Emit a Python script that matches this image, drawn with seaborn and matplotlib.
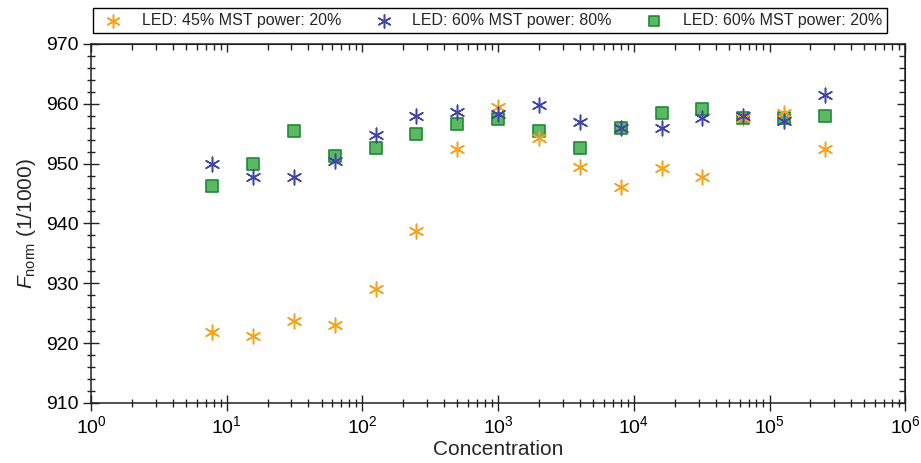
import numpy as np
import pandas as pd
import seaborn as sns
import matplotlib
matplotlib.use("Agg")
import matplotlib.pyplot as plt
from matplotlib import rcParams
from matplotlib.ticker import MultipleLocator, LogLocator, NullFormatter

# concentrations (two-fold dilution series)
conc = [7.8125, 15.625, 31.25, 62.5, 125, 250, 500, 1000, 2000, 4000,
        8000, 16000, 32000, 64000, 128000, 256000]

led45_p20 = [921.8, 921.2, 923.7, 923.0, 929.1, 938.8, 952.5, 959.4, 954.2, 949.4,
             946.1, 949.3, 947.7, 957.6, 958.4, 952.4]
led60_p80 = [949.9, 947.8, 947.8, 950.4, 954.8, 958.0, 958.7, 958.3, 959.8, 956.9,
             955.9, 956.0, 957.7, 958.0, 957.1, 961.5]
led60_p20 = [946.2, 949.9, 955.5, 951.2, 952.6, 955.0, 956.7, 957.4, 955.5, 952.6,
             956.0, 958.4, 959.1, 957.6, 957.6, 957.9]

labels = ["LED: 45% MST power: 20%", "LED: 60% MST power: 80%", "LED: 60% MST power: 20%"]

df = pd.DataFrame({
    "Concentration": conc * 3,
    "Fnorm": led45_p20 + led60_p80 + led60_p20,
    "series": [labels[0]] * 16 + [labels[1]] * 16 + [labels[2]] * 16,
})

sns.set_style("ticks")
rcParams['font.family'] = ['Liberation Sans', 'DejaVu Sans']
rcParams['mathtext.fontset'] = 'custom'
rcParams['mathtext.rm'] = 'Liberation Sans'
rcParams['mathtext.it'] = 'Liberation Sans:italic'
rcParams['axes.edgecolor'] = '#222222'

fig = plt.figure(figsize=(9.21, 4.63), dpi=100)
ax = fig.add_axes([0.0988, 0.130, 0.8842, 0.775])

asterisk = (6, 2, 0)
sns.scatterplot(data=df[df.series == labels[0]], x="Concentration", y="Fnorm",
                marker=asterisk, s=110, color="#F7A21B", linewidth=1.1,
                label=labels[0], ax=ax, zorder=3)
sns.scatterplot(data=df[df.series == labels[1]], x="Concentration", y="Fnorm",
                marker=asterisk, s=110, color="#4146A6", linewidth=1.1,
                label=labels[1], ax=ax, zorder=3)
sns.scatterplot(data=df[df.series == labels[2]], x="Concentration", y="Fnorm",
                marker="s", s=75, color="#5DB865", edgecolor="#1E8A32", linewidth=1.2,
                label=labels[2], ax=ax, zorder=2)

ax.set_xscale("log")
ax.set_xlim(1, 1e6)
ax.set_ylim(910, 970)
ax.yaxis.set_major_locator(MultipleLocator(10))
ax.yaxis.set_minor_locator(MultipleLocator(2))
ax.xaxis.set_major_locator(LogLocator(base=10, numticks=10))
ax.xaxis.set_minor_locator(LogLocator(base=10, subs=np.arange(2, 10), numticks=100))
ax.xaxis.set_minor_formatter(NullFormatter())

ax.tick_params(which="major", direction="inout", length=11, width=1, labelsize=14, colors="#222222")
ax.tick_params(which="minor", direction="inout", length=6, width=1, colors="#222222")
ax.tick_params(axis="both", labelcolor="black")

# inward ticks on top and right
top = ax.secondary_xaxis("top")
top.xaxis.set_minor_locator(LogLocator(base=10, subs=np.arange(2, 10), numticks=100))
top.xaxis.set_minor_formatter(NullFormatter())
top.tick_params(which="major", direction="in", length=6, width=1, labeltop=False)
top.tick_params(which="minor", direction="in", length=4, width=1)
right = ax.secondary_yaxis("right")
right.yaxis.set_major_locator(MultipleLocator(10))
right.yaxis.set_minor_locator(MultipleLocator(2))
right.tick_params(which="major", direction="in", length=6, width=1, labelright=False)
right.tick_params(which="minor", direction="in", length=4, width=1)

for sp in ax.spines.values():
    sp.set_linewidth(1.1)

ax.set_xlabel("Concentration", fontsize=15, labelpad=2)
ax.set_ylabel(r"$F_{\rm norm}$ (1/1000)", fontsize=15, labelpad=6)

leg = ax.legend(loc="lower left", bbox_to_anchor=(0.002, 1.031, 0.975, 0.069),
                mode="expand", ncol=3, frameon=True, fancybox=False, framealpha=1,
                edgecolor="black", fontsize=11.5, borderaxespad=0, handletextpad=0.8,
                markerscale=0.9, borderpad=0.3)
leg.get_frame().set_linewidth(1.0)

plt.savefig("out.png", dpi=100, facecolor="w")
